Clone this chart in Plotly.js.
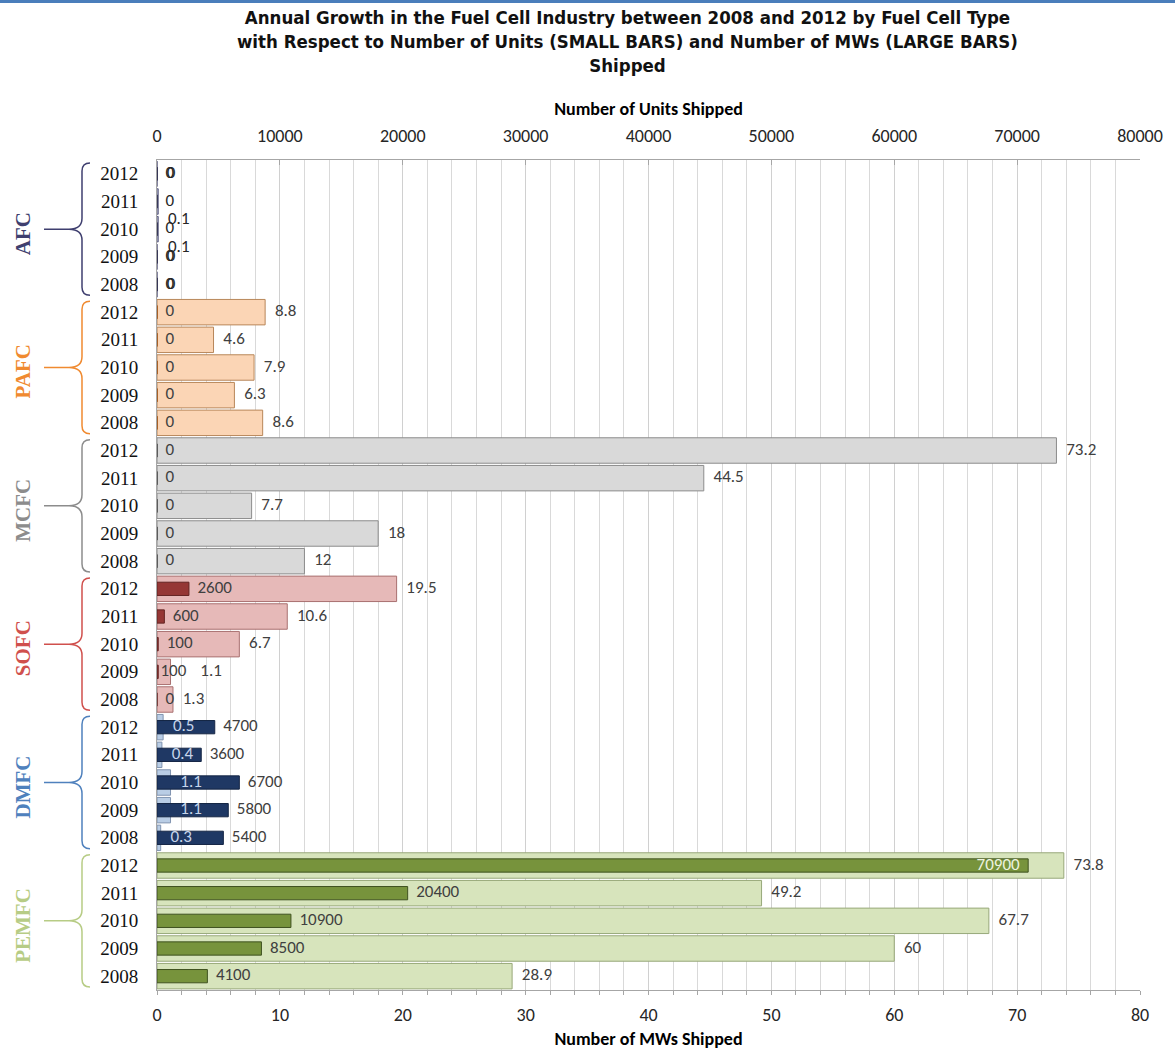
<!DOCTYPE html>
<html>
<head>
<meta charset="utf-8">
<script src="https://cdn.plot.ly/plotly-3.0.1.min.js"></script>
<style>
  html, body { margin: 0; padding: 0; background: #fff; }
  #topRule { position: absolute; left: 0; top: 0; width: 1175px; height: 3px; background: #4a7ebb; z-index: 5; }
  #chart { width: 1175px; height: 1050px; }
</style>
</head>
<body>
<div id="topRule"></div>
<div id="chart"></div>
<script>
// ---------------- data ----------------
const types = ['AFC', 'PAFC', 'MCFC', 'SOFC', 'DMFC', 'PEMFC'];
const years = ['2012', '2011', '2010', '2009', '2008'];

// Number of MWs shipped (large bars), years 2012..2008
const mwAFC   = [0, 0.1, 0.1, 0, 0];
const mwPAFC  = [8.8, 4.6, 7.9, 6.3, 8.6];
const mwMCFC  = [73.2, 44.5, 7.7, 18, 12];
const mwSOFC  = [19.5, 10.6, 6.7, 1.1, 1.3];
const mwDMFC  = [0.5, 0.4, 1.1, 1.1, 0.3];
const mwPEMFC = [73.8, 49.2, 67.7, 60, 28.9];

// Number of units shipped (small bars), years 2012..2008
const unitsAFC   = [0, 0, 0, 0, 0];
const unitsPAFC  = [0, 0, 0, 0, 0];
const unitsMCFC  = [0, 0, 0, 0, 0];
const unitsSOFC  = [2600, 600, 100, 100, 0];
const unitsDMFC  = [4700, 3600, 6700, 5800, 5400];
const unitsPEMFC = [70900, 20400, 10900, 8500, 4100];

const mwByType = [mwAFC, mwPAFC, mwMCFC, mwSOFC, mwDMFC, mwPEMFC];
const unitsByType = [unitsAFC, unitsPAFC, unitsMCFC, unitsSOFC, unitsDMFC, unitsPEMFC];

// ---------------- styles ----------------
const style = {
  AFC:   { big: '#dce3f0', bigLine: '#5a5a80', small: '#2b2b55', smallLine: '#1e1e40', label: '#3f3f6f', txt: '#262626' },
  PAFC:  { big: '#fbd5b5', bigLine: '#b8875a', small: '#e46c0a', smallLine: '#984807', label: '#f08a30', txt: '#404040' },
  MCFC:  { big: '#d9d9d9', bigLine: '#8c8c8c', small: '#595959', smallLine: '#404040', label: '#8c8c8c', txt: '#404040' },
  SOFC:  { big: '#e6b9b8', bigLine: '#a87070', small: '#953735', smallLine: '#632523', label: '#d0504d', txt: '#404040' },
  DMFC:  { big: '#b9cde5', bigLine: '#8094b0', small: '#1f3864', smallLine: '#142544', label: '#4f81bd', txt: '#404040', mwTxt: '#c6d4ea' },
  PEMFC: { big: '#d7e4bc', bigLine: '#98a87a', small: '#77933c', smallLine: '#3f5220', label: '#b7cc85', txt: '#404040' }
};

// ---------------- build arrays ----------------
const cats = [], tickText = [], mw = [], units = [];
const bigCol = [], bigLine = [], smallCol = [], smallLine = [];
const mwTextCol = [], mwTextPos = [], mwMk = [], unTextCol = [], unTextPos = [], unMk = [];
types.forEach((t, ti) => {
  years.forEach((y, yi) => {
    cats.push(t + ' ' + y);
    tickText.push(y);
    const m = mwByType[ti][yi], u = unitsByType[ti][yi];
    mw.push(m); units.push(u);
    const s = style[t];
    bigCol.push(s.big); bigLine.push(s.bigLine);
    smallCol.push(s.small); smallLine.push(s.smallLine);
    mwTextCol.push(s.mwTxt || s.txt);
    mwTextPos.push(t === 'AFC' && m > 0 ? 'bottom right' : 'middle right');
    // a label that would collide with its neighbour sits a little further out
    const crowded = t === 'SOFC' && y === '2009';
    mwMk.push(crowded ? 46 : 14);
    unMk.push(crowded ? 2 : 12);
    const inside = u > 60000;
    unTextPos.push(inside ? 'middle left' : 'middle right');
    unTextCol.push(inside ? '#eef4e0' : s.txt);
  });
});

const labelFont = 'Carlito, "Open Sans", "Liberation Sans", sans-serif';

const traces = [
  {
    type: 'bar', orientation: 'h', name: 'MWs',
    y: cats, x: mw, xaxis: 'x', yaxis: 'y', width: 0.92,
    marker: { color: bigCol, line: { color: bigLine, width: 1 } },
    hoverinfo: 'x+y'
  },
  {
    type: 'bar', orientation: 'h', name: 'Units',
    y: cats, x: units, xaxis: 'x2', yaxis: 'y', width: 0.48,
    marker: { color: smallCol, line: { color: smallLine, width: 1 } },
    hoverinfo: 'x+y'
  },
  {
    type: 'scatter', mode: 'markers+text', name: 'Units labels',
    y: cats, x: units, xaxis: 'x2', yaxis: 'y',
    text: units.map(String), textposition: unTextPos,
    textfont: { family: labelFont, size: 17, color: unTextCol },
    marker: { size: unMk, opacity: 0 }, hoverinfo: 'skip', cliponaxis: false
  },
  {
    type: 'scatter', mode: 'markers+text', name: 'MW labels',
    y: cats, x: mw, xaxis: 'x3', yaxis: 'y',
    text: mw.map(String), textposition: mwTextPos,
    textfont: { family: labelFont, size: 17, color: mwTextCol },
    marker: { size: mwMk, opacity: 0 }, hoverinfo: 'skip', cliponaxis: false
  }
];

// ---------------- braces & group labels ----------------
const L = 157, R = 1140, T = 160, B = 990;
const W = R - L, H = B - T;
const px = v => ((v - L) / W).toFixed(5);
const py = v => ((B - v) / H).toFixed(5);
const rowH = H / cats.length;
const shapes = [], annotations = [];
types.forEach((t, ti) => {
  const yt = T + ti * 5 * rowH + 3;
  const yb = T + (ti + 1) * 5 * rowH - 3;
  const ym = (yt + yb) / 2;
  const vx = 82, hx = 90, tx = 69, lx = 44, r = 8, r2 = 11;
  const d =
    `M${px(hx)},${py(yt)} Q${px(vx)},${py(yt)} ${px(vx)},${py(yt + r)} ` +
    `L${px(vx)},${py(ym - r2)} Q${px(vx)},${py(ym)} ${px(tx)},${py(ym)} ` +
    `Q${px(vx)},${py(ym)} ${px(vx)},${py(ym + r2)} ` +
    `L${px(vx)},${py(yb - r)} Q${px(vx)},${py(yb)} ${px(hx)},${py(yb)} ` +
    `M${px(tx)},${py(ym)} L${px(lx)},${py(ym)}`;
  shapes.push({ type: 'path', xref: 'paper', yref: 'paper', path: d,
                line: { color: style[t].label, width: 1.5 } });
  annotations.push({
    xref: 'paper', yref: 'paper', x: Number(px(23)), y: Number(py(ym + 4)),
    text: '<b>' + t + '</b>', showarrow: false, textangle: -90,
    xanchor: 'center', yanchor: 'middle',
    font: { family: '"Liberation Serif", "DejaVu Serif", serif', size: 21, color: style[t].label }
  });
});

// chart title as a top-anchored annotation
annotations.push({
  xref: 'paper', yref: 'paper', x: Number(px(627)), y: Number(py(5)),
  xanchor: 'center', yanchor: 'top', showarrow: false, align: 'center',
  text: '<b>Annual Growth in the Fuel Cell Industry between 2008 and 2012 by Fuel Cell Type<br>with Respect to Number of Units (SMALL BARS) and Number of MWs (LARGE BARS)<br>Shipped</b>',
  font: { family: '"Liberation Sans Narrow", "DejaVu Sans Condensed", "Roboto Condensed", sans-serif', size: 18.5, color: '#111' }
});

const axisFont = { family: labelFont, size: 18, color: '#262626' };
const axisTitleFont = { family: labelFont, size: 18, color: '#000' };
const layout = {
  width: 1175, height: 1050,
  margin: { l: L, r: 1175 - R, t: T, b: 1050 - B },
  paper_bgcolor: '#ffffff', plot_bgcolor: '#ffffff',
  showlegend: false, barmode: 'overlay',
  xaxis: {
    range: [0, 80], dtick: 10, tick0: 0, side: 'bottom',
    showgrid: true, gridcolor: '#d0d0d0', gridwidth: 1,
    minor: { dtick: 2, showgrid: true, gridcolor: '#d9d9d9', ticks: 'outside', ticklen: 4, tickcolor: '#a6a6a6' },
    ticks: 'outside', ticklen: 4, tickcolor: '#a6a6a6',
    showline: true, linecolor: '#a6a6a6', linewidth: 1,
    zeroline: false, tickfont: axisFont, ticklabelstandoff: 4,
    title: { text: '<b>Number of MWs Shipped</b>', font: axisTitleFont, standoff: 10 },
    fixedrange: true
  },
  xaxis2: {
    range: [0, 80000], dtick: 10000, tick0: 0, side: 'top', overlaying: 'x',
    tickformat: 'd',
    showgrid: false, ticks: 'inside', ticklen: 5, tickcolor: '#a6a6a6',
    showline: true, linecolor: '#a6a6a6', linewidth: 1,
    zeroline: false, tickfont: axisFont, ticklabelstandoff: 10,
    title: { text: '<b>Number of Units Shipped</b>', font: axisTitleFont, standoff: 4 },
    fixedrange: true
  },
  xaxis3: {
    range: [0, 80], overlaying: 'x', visible: false, fixedrange: true
  },
  yaxis: {
    type: 'category', categoryorder: 'array', categoryarray: cats,
    range: [cats.length - 0.5, -0.5],
    tickmode: 'array', tickvals: cats, ticktext: tickText,
    ticks: '', ticklabelstandoff: 14,
    showline: true, linecolor: '#a6a6a6', linewidth: 1,
    showgrid: false, zeroline: false,
    tickfont: { family: '"Liberation Serif", "DejaVu Serif", serif', size: 19, color: '#111' },
    fixedrange: true
  },
  shapes: shapes,
  annotations: annotations
};

Plotly.newPlot('chart', traces, layout, { displayModeBar: false, staticPlot: true });
</script>
</body>
</html>
